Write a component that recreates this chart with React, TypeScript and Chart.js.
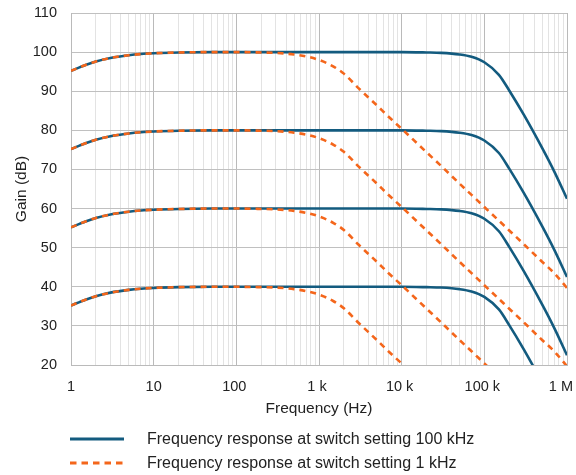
import React, { useEffect, useRef } from "react";
import { Chart, registerables } from "chart.js";

Chart.register(...registerables);

// Frequency (Hz) sample points
const freqs = [
  1, 1.5, 2, 3, 5, 7, 10, 20, 50, 100, 200, 300, 500, 700, 1000, 1500, 2000, 3000, 5000, 7000,
  10000, 20000, 30000, 50000, 70000, 100000, 150000, 200000, 300000, 500000, 700000, 1000000,
];

// Gain (dB) — switch setting 100 kHz (solid blue)
const blue100 = [95.2, 96.7, 97.6, 98.5, 99.2, 99.5, 99.7, 99.9, 100, 100, 100, 100, 100, 100, 100, 100, 100, 100, 100, 100, 100, 99.9, 99.8, 99.4, 98.8, 97.4, 94.2, 90.2, 84, 75.5, 69.5, 62.5];
const blue80 = [75.2, 76.7, 77.6, 78.5, 79.2, 79.5, 79.7, 79.9, 80, 80, 80, 80, 80, 80, 80, 80, 80, 80, 80, 80, 80, 79.9, 79.8, 79.4, 78.8, 77.4, 74.2, 70.2, 64, 55.5, 49.5, 42.5];
const blue60 = [55.2, 56.7, 57.6, 58.5, 59.2, 59.5, 59.7, 59.9, 60, 60, 60, 60, 60, 60, 60, 60, 60, 60, 60, 60, 60, 59.9, 59.8, 59.4, 58.8, 57.4, 54.2, 50.2, 44, 35.5, 29.5, 22.5];
const blue40 = [35.2, 36.7, 37.6, 38.5, 39.2, 39.5, 39.7, 39.9, 40, 40, 40, 40, 40, 40, 40, 40, 40, 40, 40, 40, 40, 39.9, 39.8, 39.4, 38.8, 37.4, 34.2, 30.2, 24, 15.5, 9.5, 2.5];

// Gain (dB) — switch setting 1 kHz (dashed orange)
const orange100 = [95.2, 96.7, 97.6, 98.5, 99.2, 99.5, 99.7, 99.9, 100, 100, 99.9, 99.8, 99.4, 98.9, 98, 96.3, 94.5, 90.8, 86.4, 83.4, 80.4, 74.4, 70.9, 66.4, 63.5, 60.4, 56.9, 54.4, 50.9, 46.4, 43.5, 39.7];
const orange80 = [75.2, 76.7, 77.6, 78.5, 79.2, 79.5, 79.7, 79.9, 80, 80, 79.9, 79.8, 79.4, 78.9, 78, 76.3, 74.5, 70.8, 66.4, 63.4, 60.4, 54.4, 50.9, 46.4, 43.5, 40.4, 36.9, 34.4, 30.9, 26.4, 23.5, 19.7];
const orange60 = [55.2, 56.7, 57.6, 58.5, 59.2, 59.5, 59.7, 59.9, 60, 60, 59.9, 59.8, 59.4, 58.9, 58, 56.3, 54.5, 50.8, 46.4, 43.4, 40.4, 34.4, 30.9, 26.4, 23.5, 20.4, 16.9, 14.4, 10.9, 6.4, 3.5, -0.3];
const orange40 = [35.2, 36.7, 37.6, 38.5, 39.2, 39.5, 39.7, 39.9, 40, 40, 39.9, 39.8, 39.4, 38.9, 38, 36.3, 34.5, 30.8, 26.4, 23.4, 20.4, 14.4, 10.9, 6.4, 3.5, 0.4, -3.1, -5.6, -9.1, -13.6, -16.5, -20.3];

// Axis ticks
const xDecades = [1, 10, 100, 1000, 10000, 100000, 1000000];
const xDecadeLabels = ["1", "10", "100 ", "1 k ", "10 k ", "100 k ", "1 M   "];
const yMin = 20;
const yMax = 110;
const yStep = 10;

const legendLabels = [
  "Frequency response at switch setting 100 kHz",
  "Frequency response at switch setting 1 kHz",
];

const BLUE = "#135b7f";
const ORANGE = "#f4661b";
const FONT = "'Liberation Sans', Arial, Helvetica, sans-serif";

function toPoints(ys: number[]) {
  return freqs.map((f, i) => ({ x: f, y: ys[i] }));
}

export default function App() {
  const ref = useRef<HTMLCanvasElement | null>(null);

  useEffect(() => {
    if (!ref.current) return;
    const blueSets = [blue100, blue80, blue60, blue40];
    const orangeSets = [orange100, orange80, orange60, orange40];
    const datasets: any[] = [];
    blueSets.forEach((s, i) => {
      datasets.push({
        label: i === 0 ? legendLabels[0] : "",
        data: toPoints(s),
        borderColor: BLUE,
        backgroundColor: BLUE,
        borderWidth: 2.6,
        pointRadius: 0,
        cubicInterpolationMode: "monotone",
        fill: false,
        order: 2,
      });
    });
    orangeSets.forEach((s, i) => {
      datasets.push({
        label: i === 0 ? legendLabels[1] : "",
        data: toPoints(s),
        borderColor: ORANGE,
        backgroundColor: ORANGE,
        borderWidth: 2.6,
        borderDash: [6, 5],
        pointRadius: 0,
        cubicInterpolationMode: "monotone",
        fill: false,
        order: 1,
      });
    });

    const minorTicks: number[] = [];
    for (let e = 0; e < 6; e++) {
      for (let m = 1; m <= 9; m++) minorTicks.push(m * Math.pow(10, e));
    }
    minorTicks.push(1000000);

    const isDecade = (v: number) => xDecades.indexOf(v) >= 0;

    const chart = new Chart(ref.current, {
      type: "line",
      data: { datasets },
      options: {
        animation: false,
        responsive: false,
        devicePixelRatio: 1,
        layout: { padding: { left: 0, top: 13, right: 9, bottom: 55 } },
        plugins: {
          legend: { display: false },
          tooltip: { enabled: false },
        },
        scales: {
          x: {
            type: "logarithmic",
            min: 1,
            max: 1000000,
            afterBuildTicks: (scale: any) => {
              scale.ticks = minorTicks.map((v) => ({ value: v, major: isDecade(v) }));
            },
            afterFit: (scale: any) => {
              scale.height = 55;
              scale.paddingLeft = 0;
              scale.paddingRight = 0;
            },
            ticks: {
              autoSkip: false,
              maxRotation: 0,
              minRotation: 0,
              padding: 13,
              color: "#222",
              font: { family: FONT, size: 14.5 },
              callback: (v: any) => {
                const idx = xDecades.indexOf(Number(v));
                return idx >= 0 ? xDecadeLabels[idx] : "";
              },
            },
            grid: {
              drawTicks: false,
              lineWidth: 1,
              color: (ctx: any) =>
                ctx.tick && isDecade(ctx.tick.value) ? "#bababa" : "#e3e3e3",
            },
            border: { color: "#bababa", width: 1 },
            title: {
              display: true,
              text: "Frequency (Hz)",
              color: "#222",
              font: { family: FONT, size: 15.5 },
              padding: { top: 0, bottom: 2 },
            },
          },
          y: {
            min: yMin,
            max: yMax,
            afterFit: (scale: any) => {
              scale.width = 71;
              scale.paddingTop = 0;
              scale.paddingBottom = 0;
            },
            ticks: {
              stepSize: yStep,
              padding: 14,
              color: "#222",
              font: { family: FONT, size: 14.5 },
            },
            grid: {
              drawTicks: false,
              lineWidth: 1,
              color: "#c0c0c0",
            },
            border: { color: "#bababa", width: 1 },
            title: {
              display: true,
              text: "Gain (dB)",
              color: "#222",
              font: { family: FONT, size: 15.5 },
              padding: { top: 12, bottom: 0 },
            },
          },
        },
      },
    });
    return () => chart.destroy();
  }, []);

  const legendRow = (i: number, dashed: boolean, color: string, top: number) => (
    <div
      key={i}
      style={{ position: "absolute", left: 0, top, width: 576, height: 24 }}
    >
      <svg
        width={60}
        height={24}
        style={{ position: "absolute", left: 68, top: 0 }}
      >
        <line
          x1={2}
          y1={12}
          x2={56}
          y2={12}
          stroke={color}
          strokeWidth={3}
          strokeDasharray={dashed ? "6.5 5" : undefined}
        />
      </svg>
      <span
        style={{
          position: "absolute",
          left: 147,
          top: 3,
          fontFamily: FONT,
          fontSize: 16,
          lineHeight: "18px",
          color: "#222",
          whiteSpace: "nowrap",
        }}
      >
        {legendLabels[i]}
      </span>
    </div>
  );

  return (
    <div
      style={{
        position: "absolute",
        left: 0,
        top: 0,
        width: 576,
        height: 475,
        background: "#fff",
        overflow: "hidden",
      }}
    >
      <canvas
        ref={ref}
        width={576}
        height={475}
        style={{ position: "absolute", left: 0, top: 0, width: 576, height: 475 }}
      />
      {legendRow(0, false, BLUE, 427)}
      {legendRow(1, true, ORANGE, 451)}
    </div>
  );
}
